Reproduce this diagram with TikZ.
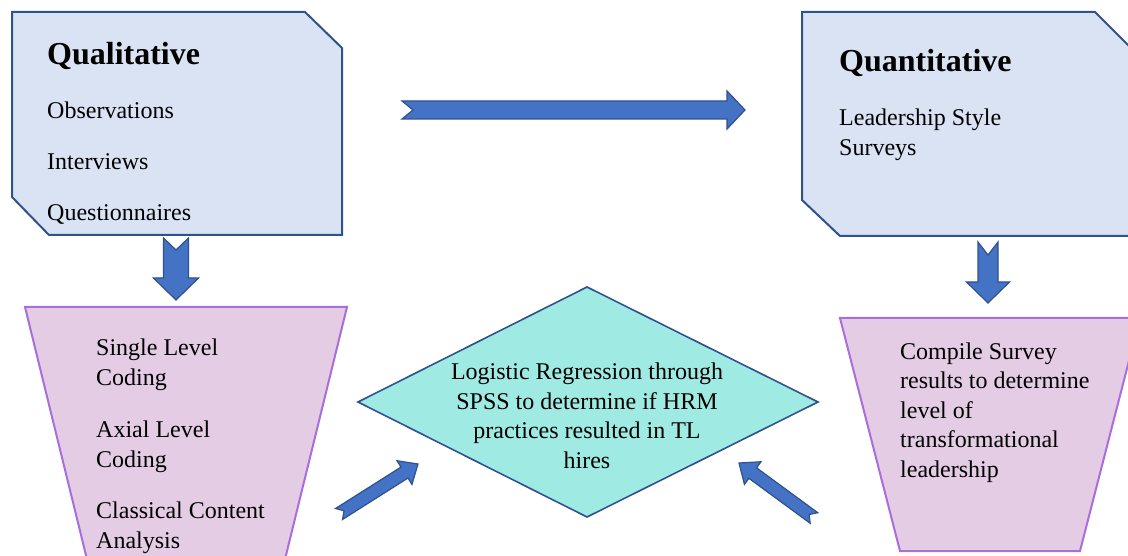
\documentclass[tikz,border=0pt]{standalone}
\usepackage{fontspec}
\setmainfont{Liberation Serif}
\usetikzlibrary{calc}

\definecolor{boxfill}{HTML}{DAE3F3}
\definecolor{boxline}{HTML}{2F528F}
\definecolor{funnelfill}{HTML}{E4CCE4}
\definecolor{funnelline}{HTML}{A86EDB}
\definecolor{diafill}{HTML}{A0EAE4}
\definecolor{arrowfill}{HTML}{4472C4}

\tikzset{
  methodbox/.style={fill=boxfill, draw=boxline, line width=2pt, line join=miter},
  funnel/.style={fill=funnelfill, draw=funnelline, line width=2pt, line join=miter},
  decision/.style={fill=diafill, draw=boxline, line width=1.6pt, line join=miter},
  blockarrow/.style={fill=arrowfill, draw=boxline, line width=1.2pt, line join=miter},
  heading/.style={font=\fontsize{32}{38}\selectfont\bfseries, inner sep=0pt},
  body/.style={font=\fontsize{24}{29.5}\selectfont, inner sep=0pt, align=left},
}

% block arrow with a notched tail: #1 tail, #2 tip, #3 shaft half width,
% #4 head half width, #5 head length, #6 notch depth
\newcommand\flowarrow[6]{%
  \path ($(#2)!#5!(#1)$) coordinate (hb);
  \draw[blockarrow]
    ($(#1)!#3!90:(#2)$) -- ($(hb)!#3!90:(#2)$) -- ($(hb)!#4!90:(#2)$) -- (#2)
    -- ($(hb)!#4!-90:(#2)$) -- ($(hb)!#3!-90:(#2)$) -- ($(#1)!#3!-90:(#2)$)
    -- ($(#1)!#6!(#2)$) -- cycle;
}

\begin{document}
\begin{tikzpicture}[x=1pt, y=-1pt]
\useasboundingbox (0,0) rectangle (1128,556);
\clip (0,0) rectangle (1128,556);

% method boxes with snipped corners
\draw[methodbox] (12,12) -- (305,12) -- (342,48) -- (342,235) -- (49,235) -- (12,197) -- cycle;
\draw[methodbox] (802,12) -- (1095,12) -- (1131,48) -- (1131,236) -- (840,236) -- (802,200) -- cycle;

% analysis funnels
\draw[funnel] (25,307) -- (347,307) -- (275,600) -- (97,600) -- cycle;
\draw[funnel] (840,318) -- (1140,318) -- (1080,551) -- (900,551) -- cycle;

% decision diamond
\draw[decision] (587,287) -- (818,402) -- (587,517) -- (358,402) -- cycle;

% texts (multi-line nodes sit on the baseline of their last line)
\node[heading, anchor=base west] (qualtitle) at (47,65) {Qualitative};
\node[body, anchor=base west] (obs) at (47,119) {Observations};
\node[body, anchor=base west] (intv) at (47,170) {Interviews};
\node[body, anchor=base west] (quest) at (47,221) {Questionnaires};

\node[heading, anchor=base west] (quanttitle) at (839,72) {Quantitative};
\node[body, anchor=base west] (lss) at (839,155.5) {Leadership Style\\Surveys};

\node[body, anchor=base west] (slc) at (96,385) {Single Level\\Coding};
\node[body, anchor=base west] (alc) at (96,467) {Axial Level\\Coding};
\node[body, anchor=base west] (cca) at (96,548) {Classical Content\\Analysis};

\node[body, anchor=base west] (compile) at (900,477)
  {Compile Survey\\results to determine\\level of\\transformational\\leadership};

\node[body, align=center, anchor=base] (logit) at (587,468)
  {Logistic Regression through\\SPSS to determine if HRM\\practices resulted in TL\\hires};

% arrow ends
\coordinate (qq-tail) at (402,110);
\coordinate (qq-tip) at (745,110);
\coordinate (ql-tail) at (176,238);
\coordinate (ql-tip) at (176,300);
\coordinate (qn-tail) at (988,242);
\coordinate (qn-tip) at (988,303);
\coordinate (lf-tail) at (339,514);
\coordinate (lf-tip) at (418,464);
\coordinate (rf-tail) at (814,518);
\coordinate (rf-tip) at (739,463);

% block arrows
\flowarrow{qq-tail}{qq-tip}{9pt}{19pt}{18pt}{11pt}
\flowarrow{ql-tail}{ql-tip}{12.5pt}{22.5pt}{22pt}{12pt}
\flowarrow{qn-tail}{qn-tip}{10pt}{21.5pt}{21pt}{13pt}
\flowarrow{lf-tail}{lf-tip}{6.5pt}{14pt}{16pt}{6pt}
\flowarrow{rf-tail}{rf-tip}{6.5pt}{14pt}{17pt}{6pt}
\end{tikzpicture}
\end{document}
